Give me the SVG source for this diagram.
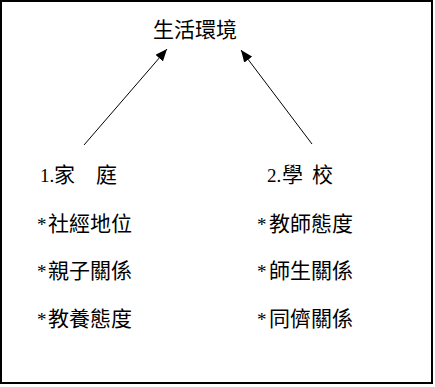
<svg xmlns="http://www.w3.org/2000/svg" width="435" height="387" viewBox="0 0 435 387">
<style>
.t{font-family:"Noto Sans CJK TC","Noto Sans CJK SC",sans-serif;font-size:21px;fill:#000}
.l{font-family:"Liberation Serif",serif;font-size:19px;fill:#000}
.c{stroke:#000;stroke-width:1;fill:none}
</style>
<defs>
<marker id="ah" markerUnits="userSpaceOnUse" markerWidth="12" markerHeight="10" refX="12" refY="5" orient="auto">
<path d="M0,0 L12,5 L0,10 z" fill="#000"/>
</marker>
</defs>
<rect x="1" y="1" width="431" height="382" fill="#fff" stroke="#000" stroke-width="2"/>
<g id="connectors">
<line class="c" x1="84" y1="145" x2="167" y2="49" marker-end="url(#ah)"/>
<line class="c" x1="312" y1="144" x2="241" y2="50" marker-end="url(#ah)"/>
</g>
<g id="title"><text class="t" x="153" y="37">生活環境</text></g>
<g id="family">
<text class="l" x="40" y="182">1.</text>
<text class="t" x="54" y="182">家</text>
<text class="t" x="96" y="182">庭</text>
<text class="l" x="37" y="231">*</text><text class="t" x="48" y="231">社經地位</text>
<text class="l" x="37" y="278">*</text><text class="t" x="48" y="278">親子關係</text>
<text class="l" x="37" y="326">*</text><text class="t" x="48" y="326">教養態度</text>
</g>
<g id="school">
<text class="l" x="267" y="182">2.</text>
<text class="t" x="282" y="182">學</text>
<text class="t" x="312" y="182">校</text>
<text class="l" x="257" y="231">*</text><text class="t" x="269" y="231">教師態度</text>
<text class="l" x="257" y="278">*</text><text class="t" x="269" y="278">師生關係</text>
<text class="l" x="257" y="326">*</text><text class="t" x="269" y="326">同儕關係</text>
</g>
</svg>
